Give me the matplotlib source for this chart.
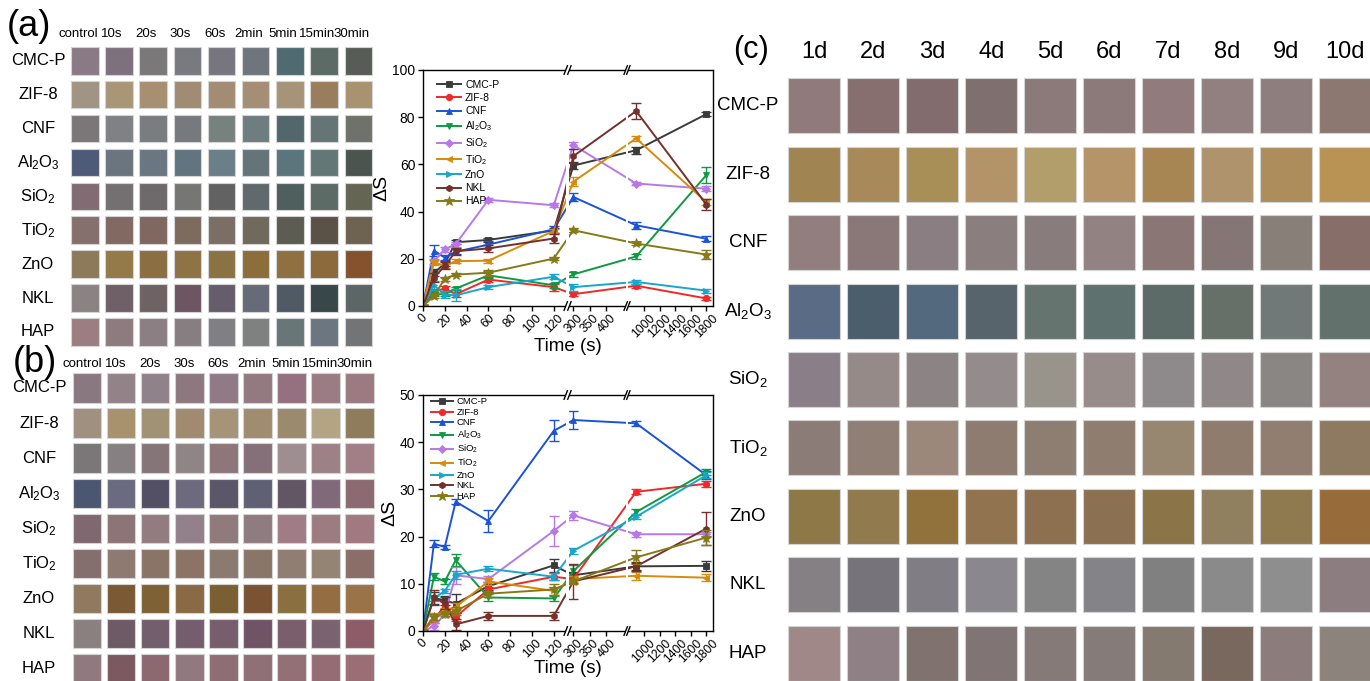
import numpy as np
import matplotlib
matplotlib.use('Agg')
import matplotlib.pyplot as plt
from matplotlib.patches import Rectangle
from matplotlib.lines import Line2D

plt.rcParams['font.family'] = ['Liberation Sans', 'DejaVu Sans']
plt.rcParams['mathtext.default'] = 'regular'

W, H = 1370, 681

# ---------------- data ----------------
materials = ['CMC-P', 'ZIF-8', 'CNF', r'Al$_2$O$_3$', r'SiO$_2$', r'TiO$_2$', 'ZnO', 'NKL', 'HAP']
time_cols = ['control', '10s', '20s', '30s', '60s', '2min', '5min', '15min', '30min']
day_cols = ['1d', '2d', '3d', '4d', '5d', '6d', '7d', '8d', '9d', '10d']
times = [0, 10, 20, 30, 60, 120, 300, 900, 1800]

# panel (a) Delta S
a_cmcp = [0, 14, 18, 27, 28, 32, 59.5, 66, 81.3]
a_zif8 = [0, 6, 7.5, 5, 11.2, 8, 5, 8.6, 3.2]
a_cnf = [0, 23.5, 20.5, 23, 26, 32.5, 46.2, 34.2, 28.5]
a_al2o3 = [0, 5, 5, 7.4, 13, 8.8, 13.4, 21, 55.5]
a_sio2 = [0, 19, 24, 26.2, 45, 42.7, 68.2, 51.9, 49.7]
a_tio2 = [0, 18.5, 17, 19, 19.2, 31.8, 52.7, 71, 44]
a_zno = [0, 8.8, 4.8, 4.5, 8, 12.4, 8, 10.2, 6.5]
a_nkl = [0, 12, 17, 23.2, 24.4, 28.6, 63.5, 82.6, 43]
a_hap = [0, 4.2, 11.6, 13.3, 14.1, 20.1, 32.1, 26.5, 21.8]

a_cmcp_err = [0, 1.5, 1, 0.8, 1, 1.2, 1.5, 1.5, 0.8]
a_zif8_err = [0, 1, 1, 1, 1, 1.5, 0.8, 0.8, 0.8]
a_cnf_err = [0, 2.5, 1.2, 1, 1.5, 1.5, 1.5, 1.5, 1]
a_al2o3_err = [0, 0.8, 0.8, 0.8, 1, 1, 1.2, 1, 3.5]
a_sio2_err = [0, 1, 1, 1, 0.8, 0.8, 1.5, 0.8, 1]
a_tio2_err = [0, 1, 1, 0.8, 0.8, 1, 2, 1.2, 1.2]
a_zno_err = [0, 2, 1.5, 2.5, 1, 1, 1.5, 0.8, 0.8]
a_nkl_err = [0, 2, 1.5, 1.5, 1.5, 2, 3, 3.5, 2.5]
a_hap_err = [0, 0.8, 0.8, 0.8, 1.2, 0.8, 0.8, 0.8, 2]

# panel (b) Delta S
b_cmcp = [0, 7, 6.5, 5.8, 9.5, 13.9, 11.8, 13.7, 13.8]
b_zif8 = [0, 2.4, 5.4, 3, 8.8, 11.5, 11, 29.5, 31.2]
b_cnf = [0, 18.5, 17.8, 27.4, 23.3, 42.4, 44.7, 44, 33]
b_al2o3 = [0, 11.5, 10.5, 15, 7.1, 6.9, 12.7, 25.2, 33.7]
b_sio2 = [0, 1, 3.5, 11.8, 11, 21.2, 24.5, 20.5, 20.5]
b_tio2 = [0, 3, 4.2, 5.1, 10.5, 8.5, 11, 11.7, 11.3]
b_zno = [0, 6.9, 8.5, 11.9, 13.2, 11.5, 17, 24.2, 33]
b_nkl = [0, 7.1, 5.9, 1.4, 3.2, 3.2, 10.5, 13.7, 21.7]
b_hap = [0, 3, 3.7, 4.2, 7.9, 8.8, 10.5, 15.6, 19.8]

b_cmcp_err = [0, 1.2, 1, 2, 0.8, 1.3, 0.8, 0.8, 1]
b_zif8_err = [0, 0.8, 0.8, 0.8, 0.6, 0.8, 0.8, 0.5, 0.6]
b_cnf_err = [0, 0.8, 0.5, 0.5, 2.4, 2.2, 1.9, 0.5, 0.8]
b_al2o3_err = [0, 0.8, 0.6, 1.3, 0.8, 0.6, 1.2, 0.6, 0.6]
b_sio2_err = [0, 0.8, 0.6, 1.8, 0.6, 3.2, 0.9, 0.5, 0.5]
b_tio2_err = [0, 0.8, 0.6, 0.8, 0.8, 0.8, 0.6, 0.8, 0.7]
b_zno_err = [0, 0.6, 0.5, 0.8, 0.5, 0.8, 0.6, 0.5, 0.6]
b_nkl_err = [0, 1.5, 1.2, 1.2, 0.9, 0.9, 3.7, 1, 3.5]
b_hap_err = [0, 0.6, 0.6, 0.8, 0.6, 1.2, 0.6, 1.5, 1.5]

series_colors = ['#3a3a3a', '#f02828', '#1a52d8', '#0e9a40', '#b878e8',
                 '#d88a0a', '#18a6cc', '#73302c', '#857a18']
series_markers = ['s', 'o', '^', 'v', 'D', '<', '>', 'h', '*']

# swatch colours
swatch_a = [
    ['#8a7a85', '#7e717e', '#7a7878', '#797980', '#77767f', '#6f757c', '#4f6a70', '#5d6b67', '#585c57'],
    ['#a09482', '#a89677', '#a78f72', '#a08c72', '#a28d73', '#a58f74', '#a69479', '#9a7d5c', '#a8926f'],
    ['#7b7779', '#808184', '#797d80', '#76797d', '#77827f', '#6e7e80', '#52676b', '#657576', '#6f716b'],
    ['#4d5a78', '#6a7580', '#6a7680', '#627480', '#6a7f88', '#647478', '#5b757c', '#647777', '#4c5450'],
    ['#806c72', '#727070', '#6e6a6b', '#767675', '#626263', '#606a6c', '#4e5f5e', '#5c6b66', '#646653'],
    ['#86706e', '#826a62', '#806860', '#7d6c5e', '#7a6e65', '#706a5c', '#5c5c52', '#5a5246', '#6e6250'],
    ['#8c7a5a', '#937a48', '#8c6e43', '#8e7444', '#8b7242', '#8c6e3a', '#8f7040', '#8c6a3c', '#84532e'],
    ['#8a8283', '#6e6066', '#6e6264', '#6d5562', '#655d6b', '#676a77', '#4f5a64', '#38474a', '#5c6664'],
    ['#9c7e82', '#8e7b80', '#8b7f83', '#877e82', '#808084', '#7f8080', '#687678', '#6c7681', '#727476'],
]
swatch_b = [
    ['#8a7880', '#928389', '#8f8389', '#8e7880', '#907a85', '#937a80', '#95707e', '#9b7b84', '#9b7a82'],
    ['#a09080', '#a8926e', '#a19276', '#a08a70', '#a59478', '#a08c6f', '#9c8a6e', '#b3a484', '#8e7c5c'],
    ['#7b7677', '#878083', '#857578', '#8f8587', '#8e777a', '#85707a', '#9e8e92', '#9c8286', '#a08086'],
    ['#4b5670', '#6a6a80', '#535066', '#6c6a7c', '#5b5668', '#606074', '#635664', '#806a7a', '#8c6a72'],
    ['#806870', '#8d7477', '#927c80', '#92808a', '#8f7a7c', '#8e7c80', '#a07c86', '#9c7c80', '#a07a80'],
    ['#856e6e', '#8e7a70', '#8a7468', '#8b7466', '#8a7a70', '#8a7668', '#917e72', '#948474', '#8c6e68'],
    ['#8f7a60', '#7a5a34', '#7e6236', '#8a6a44', '#7a5f32', '#7a5432', '#8a7040', '#946e42', '#9a7448'],
    ['#8a8080', '#6e5a66', '#725e6c', '#745e6e', '#765e6c', '#705466', '#7a5e6c', '#7a6270', '#8e5c68'],
    ['#907a80', '#7a5a60', '#8c6870', '#907a80', '#8c6e74', '#8e7076', '#927076', '#966c74', '#9a6e74'],
]
swatch_c = [
    ['#917a7c', '#876f6f', '#836c6e', '#806f6f', '#8c7a7a', '#8c7a7a', '#927b7d', '#928080', '#8f7e7e', '#8c7870'],
    ['#a08452', '#a88a5a', '#a88f58', '#b39468', '#b29e6b', '#b49468', '#a88654', '#ae936c', '#ac8d5b', '#b99354'],
    ['#927e7e', '#8a7878', '#8a7e82', '#8a7e7e', '#897c7c', '#938282', '#8b7676', '#857676', '#888078', '#876e68'],
    ['#5a6b86', '#4b5e6c', '#53697e', '#57646b', '#667470', '#5f716e', '#5d6b68', '#667068', '#707878', '#62716c'],
    ['#8a7e88', '#968a88', '#8c8484', '#948c8c', '#98948c', '#988c8a', '#8e8a8c', '#908888', '#8a8684', '#948280'],
    ['#8c7c78', '#907f74', '#9c887a', '#8e7c70', '#8e7e72', '#8f7e70', '#978670', '#8f7c6c', '#927e70', '#8e7a60'],
    ['#8f7848', '#907a4e', '#91723c', '#917350', '#8c7050', '#8c7052', '#8b7448', '#908060', '#8f7a50', '#976c3a'],
    ['#848084', '#76747a', '#807e84', '#8a888e', '#848484', '#848488', '#808080', '#8a8a8a', '#8e8e8e', '#8c7e80'],
    ['#a08888', '#8e8084', '#80736f', '#807474', '#857a78', '#857b79', '#857a70', '#78685e', '#8c7c7c', '#8c847c'],
]

xtick_vals = [0, 20, 40, 60, 80, 100, 120, 300, 350, 400, 1000, 1200, 1400, 1600, 1800]

# ---------------- broken time axis (piecewise linear scale) ----------------
BD = np.array([0.0, 131.0, 288.0, 458.0, 800.0, 1885.0])
BU = np.array([0.0, 431.0, 442.0, 612.0, 620.0, 875.6])
S_LO = (BU[1] - BU[0]) / (BD[1] - BD[0])
S_HI = (BU[-1] - BU[-2]) / (BD[-1] - BD[-2])


def fwd(x):
    x = np.asarray(x, dtype=float)
    y = np.interp(x, BD, BU)
    y = np.where(x < BD[0], BU[0] + (x - BD[0]) * S_LO, y)
    y = np.where(x > BD[-1], BU[-1] + (x - BD[-1]) * S_HI, y)
    return y


def inv(u):
    u = np.asarray(u, dtype=float)
    x = np.interp(u, BU, BD)
    x = np.where(u < BU[0], BD[0] + (u - BU[0]) / S_LO, x)
    x = np.where(u > BU[-1], BD[-1] + (u - BU[-1]) / S_HI, x)
    return x


fig = plt.figure(figsize=(W / 100, H / 100), dpi=100)


def px_rect(l, t, r, b):
    return [l / W, 1 - b / H, (r - l) / W, (b - t) / H]


def make_chart(rect, vals, errs, ymax, ystep, leg_anchor, leg_fs, leg_spacing,
               xlabel_y):
    ax = fig.add_axes(rect)
    ax.set_xscale('function', functions=(fwd, inv))
    handles = []
    for v, e, c, m in zip(vals, errs, series_colors, series_markers):
        ms = 7 if m == '*' else (3.8 if m == 'D' else 4.6)
        ax.errorbar(times, v, yerr=e, fmt='none', ecolor=c, elinewidth=1.0,
                    capsize=3.5, capthick=1.0, zorder=2)
        ln, = ax.plot(times, v, color=c, marker=m, markersize=ms, linewidth=1.4,
                      markeredgewidth=0.6, zorder=2)
        handles.append(ln)
    ax.set_xlim(0, 1885)
    ax.set_ylim(0, ymax)
    ax.set_yticks(np.arange(0, ymax + 0.1, ystep))
    ax.set_xticks(xtick_vals)
    ax.set_xticklabels([str(v) for v in xtick_vals])
    ax.tick_params(axis='both', direction='out', length=3.5, width=1.0,
                   labelsize=10, pad=2)
    ax.tick_params(axis='x', labelrotation=45, pad=1, labelsize=8.8)
    for sp in ax.spines.values():
        sp.set_linewidth(1.0)
    # breaks
    for ua, ub in [(BU[1], BU[2]), (BU[3], BU[4])]:
        xa, xb = float(inv(ua)), float(inv(ub))
        ax.axvspan(xa, xb, facecolor='white', edgecolor='none', zorder=2.3)
        for yy in (0.0, 1.0):
            ax.add_patch(Rectangle((xa, yy - 0.015), xb - xa, 0.03,
                                   transform=ax.get_xaxis_transform(),
                                   facecolor='white', edgecolor='none',
                                   clip_on=False, zorder=3))
            for uu in (ua, ub):
                ax.add_line(Line2D([float(inv(uu - 5)), float(inv(uu + 5))],
                                   [yy - 0.018, yy + 0.018],
                                   transform=ax.get_xaxis_transform(),
                                   color='black', linewidth=1.0,
                                   clip_on=False, zorder=3.1))
    ax.set_xlabel('Time (s)', fontsize=13.5)
    ax.xaxis.set_label_coords(0.5, xlabel_y)
    ax.set_ylabel('ΔS', fontsize=14, labelpad=1)
    ax.legend(handles=handles, labels=materials, loc='upper left',
              bbox_to_anchor=leg_anchor, frameon=False, fontsize=leg_fs,
              handlelength=2.3, labelspacing=leg_spacing, borderpad=0,
              borderaxespad=0, handletextpad=0.4)
    return ax


vals_a = [a_cmcp, a_zif8, a_cnf, a_al2o3, a_sio2, a_tio2, a_zno, a_nkl, a_hap]
errs_a = [a_cmcp_err, a_zif8_err, a_cnf_err, a_al2o3_err, a_sio2_err,
          a_tio2_err, a_zno_err, a_nkl_err, a_hap_err]
vals_b = [b_cmcp, b_zif8, b_cnf, b_al2o3, b_sio2, b_tio2, b_zno, b_nkl, b_hap]
errs_b = [b_cmcp_err, b_zif8_err, b_cnf_err, b_al2o3_err, b_sio2_err,
          b_tio2_err, b_zno_err, b_nkl_err, b_hap_err]

make_chart(px_rect(423, 70, 713, 306), vals_a, errs_a, 100, 20,
           (0.048, 0.958), 7.5, 0.3, (306 - 338) / 236)
make_chart(px_rect(423, 395, 713, 631), vals_b, errs_b, 50, 10,
           (0.028, 0.99), 6.8, 0.16, (631 - 660) / 236)


def swatch_panel(left, top, pitch_x, pitch_y, cell_w, cell_h, colors,
                 row_labels, col_labels, row_label_x, col_label_y,
                 col_dx, row_fs, col_fs):
    nrows, ncols = len(colors), len(colors[0])
    ax = fig.add_axes([left / W, 1 - (top + nrows * pitch_y) / H,
                       ncols * pitch_x / W, nrows * pitch_y / H])
    ax.set_xlim(-0.5, ncols - 0.5)
    ax.set_ylim(nrows - 0.5, -0.5)
    ax.axis('off')
    w, h = cell_w / pitch_x, cell_h / pitch_y
    for i, row in enumerate(colors):
        for j, c in enumerate(row):
            ax.add_patch(Rectangle((j - w / 2, i - h / 2), w, h, facecolor=c,
                                   edgecolor='#d4d4d4', linewidth=0.8,
                                   clip_on=False))
    rx = (row_label_x - left) / pitch_x - 0.5
    for i, lab in enumerate(row_labels):
        ax.text(rx, i, lab, ha='center', va='center', fontsize=row_fs,
                clip_on=False)
    cy = (col_label_y - top) / pitch_y - 0.5
    for j, lab in enumerate(col_labels):
        ax.text(j + col_dx, cy, lab, ha='center', va='center',
                fontsize=col_fs, clip_on=False)
    return ax


swatch_panel(67.65, 43.8, 34.2, 33.9, 27.5, 27.5, swatch_a, materials,
             time_cols, 38, 34, -0.2, 12, 9.5)
swatch_panel(70.0, 370.4, 34.05, 35.1, 28.7, 29.3, swatch_b, materials,
             time_cols, 39, 364, -0.15, 12, 9.5)
swatch_panel(784.8, 71.6, 59.0, 68.4, 52, 55, swatch_c, materials,
             day_cols, 748, 52, 0.0, 13.5, 17)

fig.text(29 / W, 1 - 27 / H, '(a)', fontsize=26, ha='center', va='center')
fig.text(35 / W, 1 - 362 / H, '(b)', fontsize=26, ha='center', va='center')
fig.text(751 / W, 1 - 50 / H, '(c)', fontsize=22, ha='center', va='center')

fig.savefig('out.png', dpi=100)
